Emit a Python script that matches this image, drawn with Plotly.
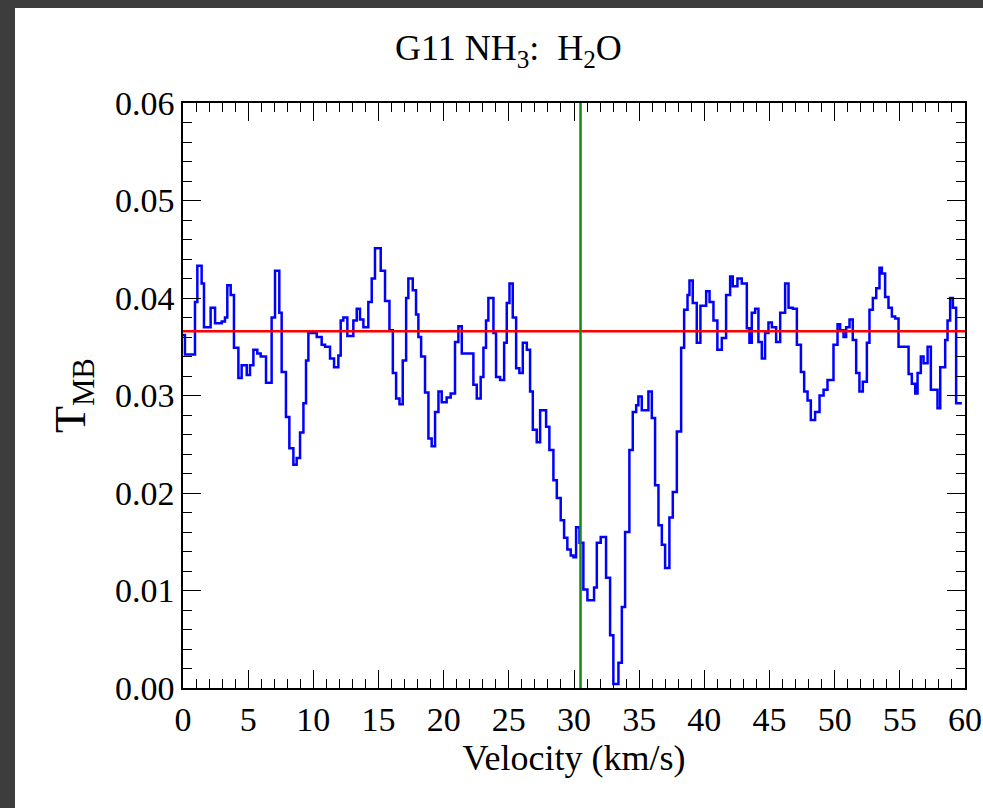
import plotly.graph_objects as go

# Step-spectrum: channel start velocities (km/s) and main-beam temperature
velocity = [
    0.0, 0.15, 0.92, 1.1, 1.43, 1.61, 2.12, 2.46, 2.97, 3.22, 3.4, 3.66, 3.91,
    4.25, 4.5, 4.89, 5.14, 5.4, 5.7, 5.96, 6.37, 6.8, 7.06, 7.39, 7.57, 7.9,
    8.16, 8.47, 8.72, 8.98, 9.24, 9.44, 9.62,
    10.26, 10.64, 10.9, 11.28, 11.59, 11.92, 12.1, 12.3, 12.61, 13.07, 13.33,
    13.58, 13.84, 14.22, 14.48, 14.73, 15.17, 15.5, 15.84, 16.1, 16.35, 16.61,
    16.86, 17.12, 17.29, 17.63, 17.88, 18.06, 18.27, 18.57, 18.83, 19.08,
    19.34, 19.6, 19.85,
    20.23, 20.54, 20.87, 21.13, 21.39, 22.28, 22.54, 22.84, 23.05, 23.25,
    23.43, 23.82, 24.02, 24.33, 24.64, 24.84, 25.05, 25.3, 25.56, 25.81,
    26.07, 26.38, 26.63, 26.84, 27.14, 27.4, 27.86, 28.11, 28.42, 28.68,
    28.98, 29.24, 29.49, 29.75,
    29.96, 30.16, 30.42, 30.72, 31.03, 31.54, 31.75, 32.05, 32.46, 32.77,
    33.02, 33.41, 33.67, 33.92, 34.25, 34.51, 34.77, 34.94, 35.2, 35.71,
    35.97, 36.22, 36.48, 36.74, 36.99, 37.32, 37.58, 37.89, 38.22, 38.45,
    38.71, 38.86, 39.11, 39.42, 39.7,
    40.14, 40.4, 40.7, 41.0, 41.34, 41.67, 41.98, 42.18, 42.54, 42.87, 43.26,
    43.46, 43.64, 43.9, 44.15, 44.41, 44.66, 44.92, 45.18, 45.51, 45.82,
    46.2, 46.46, 46.79, 47.1, 47.41, 47.66, 47.92, 48.17, 48.5, 48.84, 49.15,
    49.45, 49.91,
    50.22, 50.42, 50.68, 50.88, 51.14, 51.39, 51.65, 51.9, 52.16, 52.47,
    52.67, 52.93, 53.19, 53.44, 53.62, 53.87, 54.13, 54.39, 54.64, 54.9,
    55.67, 55.92, 56.18, 56.36, 56.61, 56.82, 57.13, 57.38, 57.89, 58.1,
    58.48, 58.66, 58.86, 59.07, 59.32, 59.76,
]
t_mb = [
    0.0362, 0.0342, 0.0396, 0.0433, 0.0415, 0.0370, 0.0390, 0.0374, 0.0376,
    0.0380, 0.0413, 0.0403, 0.0349, 0.0318, 0.0331, 0.0321, 0.0331, 0.0347,
    0.0343, 0.0340, 0.0313, 0.0380, 0.0428, 0.0385, 0.0324, 0.0278, 0.0246,
    0.0229, 0.0236, 0.0262, 0.0292, 0.0336, 0.0364,
    0.0360, 0.0352, 0.0350, 0.0338, 0.0329, 0.0341, 0.0377, 0.0380, 0.0361,
    0.0377, 0.0389, 0.0378, 0.0370, 0.0396, 0.0420, 0.0451, 0.0428, 0.0397,
    0.0367, 0.0323, 0.0297, 0.0291, 0.0336, 0.0400, 0.0420, 0.0408, 0.0383,
    0.0360, 0.0340, 0.0303, 0.0256, 0.0248, 0.0283, 0.0304, 0.0293,
    0.0298, 0.0302, 0.0355, 0.0371, 0.0343, 0.0311, 0.0297, 0.0319, 0.0349,
    0.0377, 0.0400, 0.0364, 0.0319, 0.0316, 0.0354, 0.0395, 0.0415, 0.0380,
    0.0328, 0.0323, 0.0354, 0.0347, 0.0304, 0.0265, 0.0252, 0.0285, 0.0268,
    0.0244, 0.0213, 0.0195, 0.0172, 0.0154, 0.0142, 0.0136,
    0.0134, 0.0165, 0.0149, 0.0101, 0.0090, 0.0103, 0.0149, 0.0155, 0.0113,
    0.0054, 0.0004, 0.0026, 0.0083, 0.0160, 0.0244, 0.0283, 0.0290, 0.0299,
    0.0285, 0.0304, 0.0277, 0.0208, 0.0167, 0.0147, 0.0123, 0.0175, 0.0201,
    0.0263, 0.0349, 0.0388, 0.0403, 0.0418, 0.0395, 0.0354,
    0.0392, 0.0407, 0.0396, 0.0377, 0.0347, 0.0359, 0.0403, 0.0422, 0.0412,
    0.0420, 0.0415, 0.0369, 0.0354, 0.0385, 0.0389, 0.0355, 0.0338, 0.0364,
    0.0375, 0.0370, 0.0355, 0.0385, 0.0415, 0.0390, 0.0389, 0.0352, 0.0324,
    0.0304, 0.0295, 0.0275, 0.0283, 0.0300, 0.0306, 0.0316,
    0.0352, 0.0373, 0.0367, 0.0360, 0.0370, 0.0378, 0.0357, 0.0323, 0.0304,
    0.0314, 0.0354, 0.0388, 0.0400, 0.0410, 0.0431, 0.0425, 0.0401, 0.0390,
    0.0381, 0.0379, 0.0350, 0.0322, 0.0312, 0.0302, 0.0323, 0.0340, 0.0333,
    0.0350, 0.0306, 0.0287, 0.0329, 0.0357, 0.0377, 0.0400, 0.0390, 0.0292,
]
velocity_max = 60.0
baseline = 0.0366      # red horizontal reference level
v_lsr = 30.5           # green vertical systemic velocity

x_steps = velocity + [velocity_max]
y_steps = t_mb + [t_mb[-1]]

serif = "Liberation Serif, Times New Roman, serif"

fig = go.Figure()
fig.add_trace(go.Scatter(
    x=x_steps, y=y_steps, mode="lines", line_shape="hv",
    line=dict(color="#0000ff", width=2.5), showlegend=False, hoverinfo="skip",
))
fig.add_trace(go.Scatter(
    x=[0, velocity_max], y=[baseline, baseline], mode="lines",
    line=dict(color="#ff0000", width=2.5), showlegend=False,
))
fig.add_trace(go.Scatter(
    x=[v_lsr, v_lsr], y=[0, 0.06], mode="lines",
    line=dict(color="#128a12", width=2.5), showlegend=False,
))

W, H = 983, 808
L, R, T, B = 183, 18, 103, 120
pw, ph = W - L - R, H - T - B

def px(xp):
    return (xp - L) / pw

def py(yp):
    return (H - B - yp) / ph

dark = "#3d3d3d"
fig.add_shape(type="rect", xref="paper", yref="paper",
              x0=px(0), x1=px(15), y0=py(H), y1=py(0),
              fillcolor=dark, line_width=0, layer="below")
fig.add_shape(type="rect", xref="paper", yref="paper",
              x0=px(0), x1=px(W), y0=py(8), y1=py(0),
              fillcolor=dark, line_width=0, layer="below")

fig.add_annotation(
    text="G11 NH<sub>3</sub>:  H<sub>2</sub>O", xref="paper", yref="paper",
    x=px(508), y=py(50), xanchor="center", yanchor="middle", showarrow=False,
    font=dict(family=serif, size=36, color="black"),
)

axis_common = dict(
    showgrid=False, zeroline=False, showline=True, linecolor="black",
    linewidth=1.5, mirror="ticks", ticks="inside", tickcolor="black",
    tickwidth=1.2, tickfont=dict(family=serif, size=34, color="black"),
    automargin=False,
)

fig.update_xaxes(
    range=[0, 60], dtick=5, ticklen=18,
    minor=dict(ticks="inside", dtick=1, ticklen=9, tickcolor="black", tickwidth=1),
    title=dict(text="Velocity (km/s)", font=dict(family=serif, size=36, color="black"),
               standoff=4),
    **axis_common,
)
fig.update_yaxes(
    range=[0, 0.06], dtick=0.01, tickformat=".2f", ticklen=18,
    minor=dict(ticks="inside", dtick=0.002, ticklen=9, tickcolor="black", tickwidth=1),
    title=dict(text="T<sub>MB</sub>", font=dict(family=serif, size=44, color="black"),
               standoff=16),
    **axis_common,
)

fig.update_layout(
    width=W, height=H,
    margin=dict(l=L, r=R, t=T, b=B, pad=0, autoexpand=False),
    paper_bgcolor="white", plot_bgcolor="white",
    showlegend=False,
)

fig.write_html("out.html")
